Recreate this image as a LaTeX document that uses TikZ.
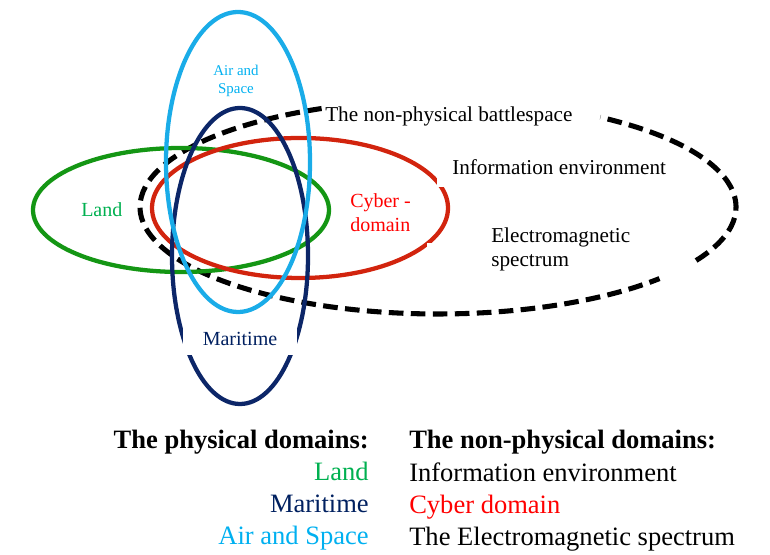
\documentclass[tikz,border=0pt]{standalone}
\usepackage{fontspec}
\setmainfont{Liberation Serif}
\definecolor{landline}{RGB}{20,150,20}
\definecolor{landtext}{RGB}{0,176,80}
\definecolor{navy}{RGB}{12,38,104}
\definecolor{navytext}{RGB}{0,32,96}
\definecolor{airline}{RGB}{26,172,232}
\definecolor{airtext}{RGB}{0,176,240}
\definecolor{cyberline}{RGB}{210,36,14}
\definecolor{cybertext}{RGB}{255,0,0}
\tikzset{
  domline/.style={line width=3.2pt},
  dashline/.style={line width=3.8pt, black, dash pattern=on 11pt off 5.5pt},
  lbl/.style={inner sep=0pt, anchor=base west, font=\fontsize{15}{18}\selectfont},
  info/.style={inner sep=0pt, anchor=base west, font=\fontsize{15.9}{19}\selectfont},
  bighead/.style={inner sep=0pt, font=\fontsize{19.9}{24}\selectfont\bfseries},
  bigtxt/.style={inner sep=0pt, font=\fontsize{19.9}{24}\selectfont}
}
\begin{document}
\begin{tikzpicture}[x=0.75pt,y=0.75pt]
\useasboundingbox (0,0) rectangle (770,555);
% non-physical battlespace (dashed)
\coordinate (d1) at (321.6,446.5);
\coordinate (d2) at (696.1,294.5);
\draw[dashline] (d1) arc[start angle=113, end angle=318, x radius=298, y radius=107];
\draw[dashline] (d2) arc[start angle=-30, end angle=57, x radius=298, y radius=107];
% physical / cyber domains
\draw[domline, landline] (181,345) ellipse [x radius=148, y radius=62];
\draw[domline, cyberline] (300,347) ellipse [x radius=148, y radius=70];
\draw[domline, navy] (240,299) ellipse [x radius=68, y radius=148];
\draw[domline, airline] (238,393) ellipse [x radius=72, y radius=150];
% small gaps in the cyber ring
\fill[white] (437,368) rectangle (452,386);
\fill[white] (427,293) rectangle (452,312);
% labels in the diagram
\node[lbl, text=landtext] (land) at (81,338) {Land};
\node[fill=white, inner sep=0pt, minimum width=85.5pt, minimum height=25pt, text=navytext, font=\fontsize{15}{18}\selectfont] (maritime) at (240,216.5) {Maritime};
\node[inner sep=0pt, anchor=base, text=airtext, font=\fontsize{11.2}{13.5}\selectfont] (air1) at (236,479) {Air and};
\node[inner sep=0pt, anchor=base, text=airtext, font=\fontsize{11.2}{13.5}\selectfont] (air2) at (236,461) {Space};
\node[lbl, text=cybertext] (cyb1) at (350,347) {Cyber -};
\node[lbl, text=cybertext] (cyb2) at (350,323) {domain};
\node[info] (bs) at (325,433) {The non-physical battlespace};
\node[info] (ie) at (452,380) {Information environment};
\node[info] (em1) at (491,312) {Electromagnetic};
\node[info] (em2) at (491,288) {spectrum};
% legend, left column
\node[bighead, anchor=base east] (ph) at (369,106) {The physical domains:};
\node[bigtxt, anchor=base east, text=landtext] (phl) at (369,74) {Land};
\node[bigtxt, anchor=base east, text=navytext] (phm) at (369,42) {Maritime};
\node[bigtxt, anchor=base east, text=airtext] (pha) at (369,10) {Air and Space};
% legend, right column
\node[bighead, anchor=base west] (nph) at (409,106) {The non-physical domains:};
\node[bigtxt, anchor=base west] (npi) at (409,73) {Information environment};
\node[bigtxt, anchor=base west, text=cybertext] (npc) at (409,41) {Cyber domain};
\node[bigtxt, anchor=base west] (npe) at (409,9) {The Electromagnetic spectrum};
\end{tikzpicture}
\end{document}
